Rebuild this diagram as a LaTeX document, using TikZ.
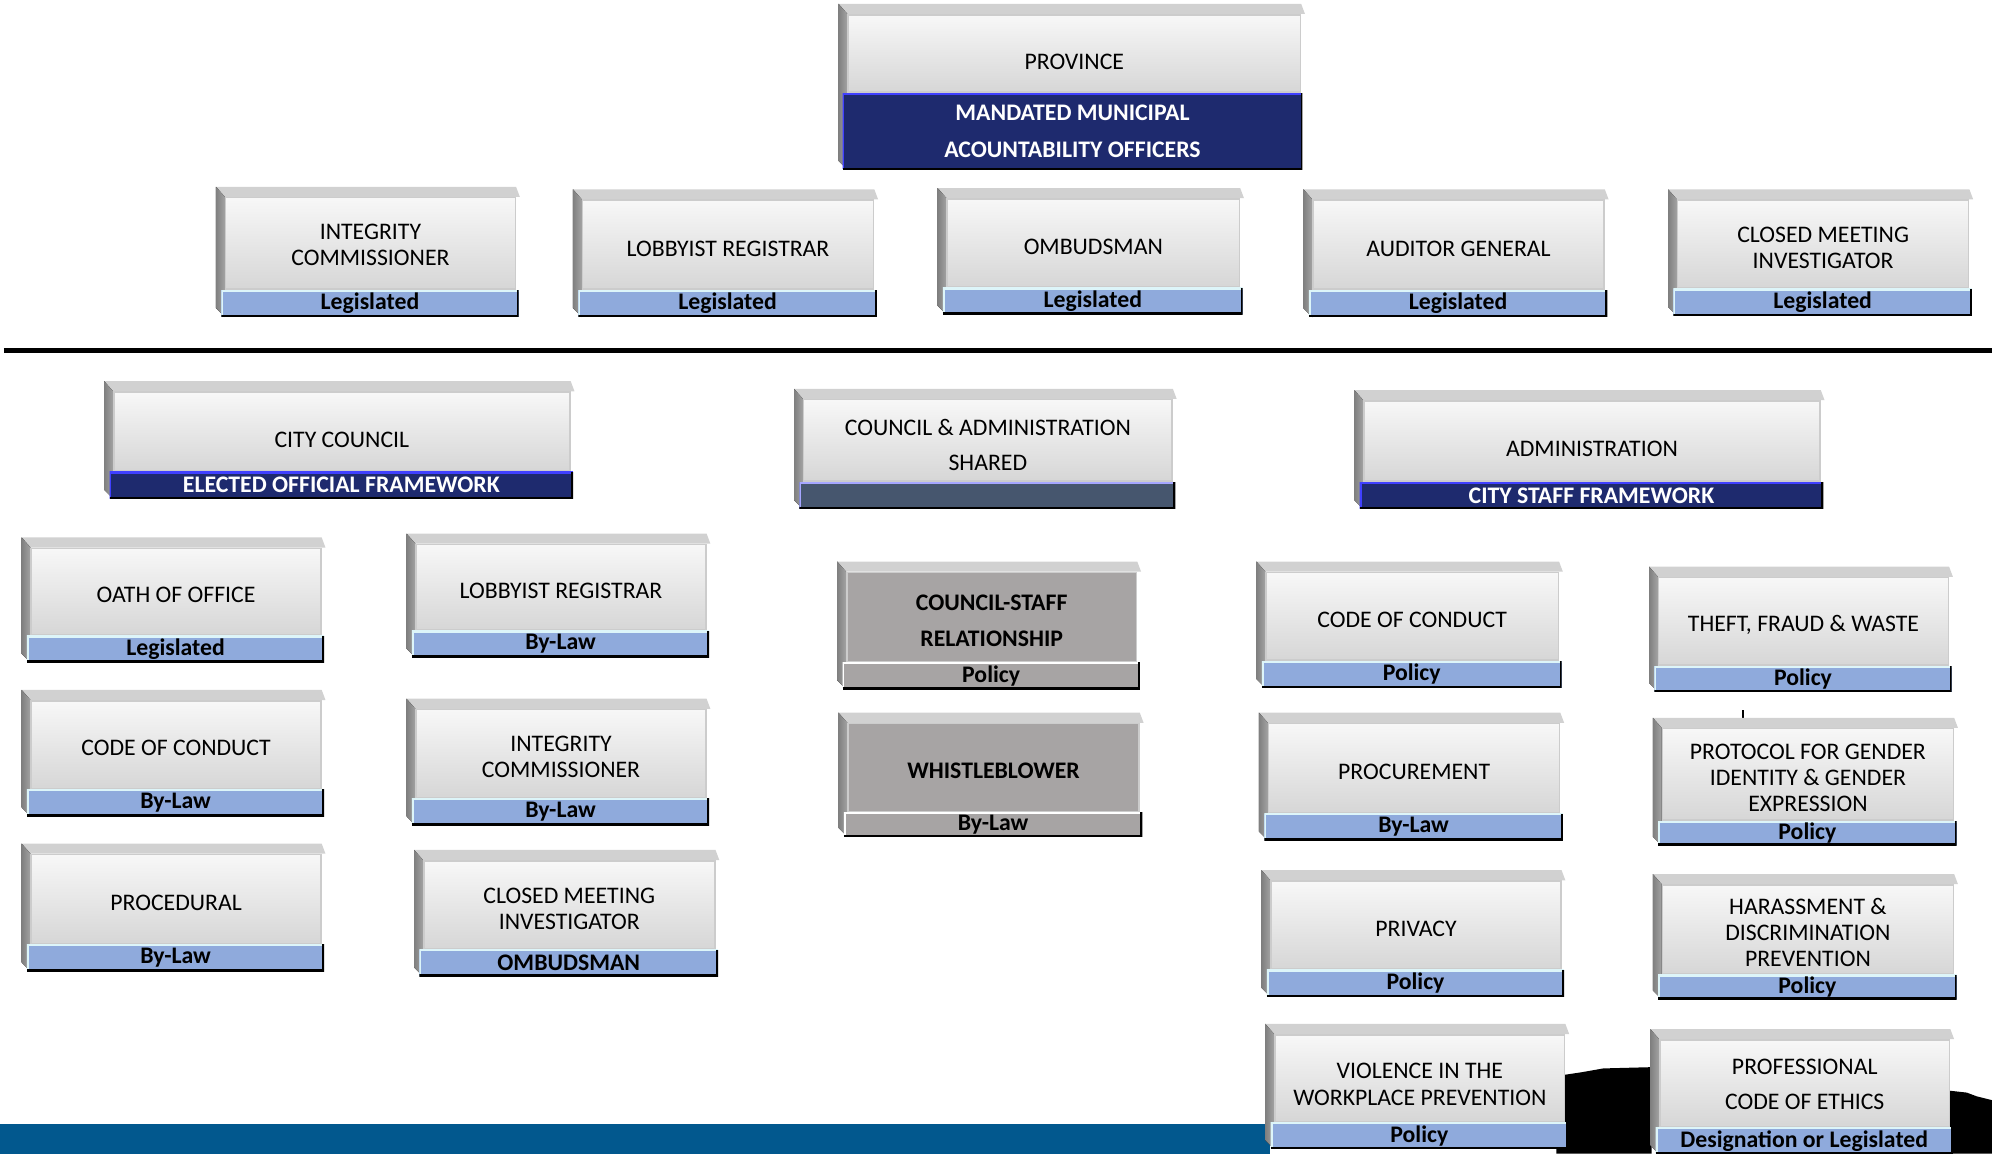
\documentclass[tikz,border=0pt]{standalone}
\usepackage{fontspec}
\setmainfont{Carlito}
\usetikzlibrary{calc,backgrounds}
\definecolor{navy}{HTML}{1E2A6E}
\definecolor{barblue}{HTML}{8FAADC}
\definecolor{slate}{HTML}{46566E}
\definecolor{facedark}{HTML}{A7A4A4}
\definecolor{bandblue}{HTML}{02588E}
\definecolor{barhi}{HTML}{DDF5F9}

\begin{document}
\begin{tikzpicture}[x=1pt,y=-1pt,
  face/.style={rectangle,anchor=north west,inner sep=0pt,align=center,
               draw=black!20,line width=1.2pt,top color=black!3,bottom color=black!16,
               font=\fontsize{18.7}{20.5}\selectfont},
  darkface/.style={face,top color=facedark,bottom color=facedark,
               font=\bfseries\fontsize{18.7}{28}\selectfont},
  wide/.style={font=\fontsize{18.7}{28}\selectfont},
  one/.style={text height=18pt},
  two/.style={text height=38.5pt},
  three/.style={text height=59pt},
  hdr/.style={text height=25pt},
  bar/.style={rectangle,anchor=north west,inner sep=0pt,align=center,
              minimum width=#1,minimum height=21pt,fill=barblue,
              font=\bfseries\fontsize{18.7}{20.5}\selectfont,
              path picture={
                \draw[barhi,line width=3pt] (path picture bounding box.south west)
                  -- (path picture bounding box.north west) -- (path picture bounding box.north east);
                \draw[black,line width=3pt] (path picture bounding box.south west)
                  -- (path picture bounding box.south east) -- (path picture bounding box.north east);}},
  navybar/.style={bar=#1,fill=navy,text=white,/utils/exec={\colorlet{barhi}{blue!75!white}}},
  slatebar/.style={bar=#1,fill=slate,/utils/exec={\colorlet{barhi}{blue!35!white}}},
  greybar/.style={bar=#1,fill=facedark,/utils/exec={\colorlet{barhi}{white}}},
  bevtop/.style={fill=black!18},
  bevleft/.style={left color=black!50,right color=black!36},
  rule/.style={line width=3.5pt}
]
  \useasboundingbox (0,0) rectangle (1568,908);

  % province
  \node[face,hdr,minimum width=356pt,minimum height=61pt] (prov) at (667,11) {PROVINCE};
  \node[navybar=362pt,minimum height=60pt,font=\bfseries\fontsize{18.7}{29}\selectfont]
       (prov-bar) at ([xshift=-4pt]prov.south west) {MANDATED MUNICIPAL\\ACOUNTABILITY OFFICERS};

  % accountability officers
  \node[face,text height=35.5pt,minimum width=228pt,minimum height=72pt] (ic) at (177,155) {INTEGRITY\\COMMISSIONER};
  \node[bar=234pt] (ic-bar) at ([xshift=-3pt]ic.south west) {Legislated};
  \node[face,one,minimum width=229pt,minimum height=70pt] (lr) at (458,157) {LOBBYIST REGISTRAR};
  \node[bar=235pt] (lr-bar) at ([xshift=-3pt]lr.south west) {Legislated};
  \node[face,one,minimum width=230pt,minimum height=69pt] (omb) at (745,156) {OMBUDSMAN};
  \node[bar=236pt] (omb-bar) at ([xshift=-3pt]omb.south west) {Legislated};
  \node[face,one,minimum width=229pt,minimum height=70pt] (ag) at (1033,157) {AUDITOR GENERAL};
  \node[bar=235pt] (ag-bar) at ([xshift=-3pt]ag.south west) {Legislated};
  \node[face,two,minimum width=229pt,minimum height=69pt] (cmi) at (1320,157) {CLOSED MEETING\\INVESTIGATOR};
  \node[bar=235pt] (cmi-bar) at ([xshift=-3pt]cmi.south west) {Legislated};

  % frameworks
  \node[face,hdr,minimum width=359pt,minimum height=62pt] (council) at (89,308) {CITY COUNCIL};
  \node[navybar=365pt] (council-bar) at ([xshift=-3pt]council.south west) {ELECTED OFFICIAL FRAMEWORK};
  \node[face,wide,text height=48pt,minimum width=290pt,minimum height=64pt] (shared) at (632,314) {COUNCIL \& ADMINISTRATION\\SHARED};
  \node[slatebar=296pt] (shared-bar) at ([xshift=-3pt]shared.south west) {};
  \node[face,hdr,minimum width=359pt,minimum height=63pt] (admin) at (1073,315) {ADMINISTRATION};
  \node[navybar=365pt] (admin-bar) at ([xshift=-3pt]admin.south west) {CITY STAFF FRAMEWORK};

  % council
  \node[face,one,minimum width=228pt,minimum height=68pt] (oath) at (24,431) {OATH OF OFFICE};
  \node[bar=234pt] (oath-bar) at ([xshift=-3pt]oath.south west) {Legislated};
  \node[face,one,minimum width=228pt,minimum height=69pt] (ccoc) at (24,551) {CODE OF CONDUCT};
  \node[bar=234pt] (ccoc-bar) at ([xshift=-3pt]ccoc.south west) {By-Law};
  \node[face,one,minimum width=228pt,minimum height=70pt] (proc) at (24,672) {PROCEDURAL};
  \node[bar=234pt] (proc-bar) at ([xshift=-3pt]proc.south west) {By-Law};
  \node[face,one,minimum width=228pt,minimum height=67pt] (clr) at (327,428) {LOBBYIST REGISTRAR};
  \node[bar=234pt] (clr-bar) at ([xshift=-3pt]clr.south west) {By-Law};
  \node[face,two,minimum width=228pt,minimum height=69pt] (cic) at (327,558) {INTEGRITY\\COMMISSIONER};
  \node[bar=234pt] (cic-bar) at ([xshift=-3pt]cic.south west) {By-Law};
  \node[face,two,minimum width=229pt,minimum height=69pt] (ccmi) at (333,677) {CLOSED MEETING\\INVESTIGATOR};
  \node[bar=235pt] (ccmi-bar) at ([xshift=-3pt]ccmi.south west) {OMBUDSMAN};

  % shared
  \node[darkface,text height=46pt,minimum width=228pt,minimum height=70pt] (csr) at (666,450) {COUNCIL-STAFF\\RELATIONSHIP};
  \node[greybar=234pt] (csr-bar) at ([xshift=-3pt]csr.south west) {Policy};
  \node[darkface,one,minimum width=229pt,minimum height=69pt] (wb) at (667,569) {WHISTLEBLOWER};
  \node[greybar=235pt,minimum height=19pt] (wb-bar) at ([xshift=-3pt]wb.south west) {By-Law};

  % administration
  \node[face,one,minimum width=230pt,minimum height=69pt] (acoc) at (996,450) {CODE OF CONDUCT};
  \node[bar=236pt] (acoc-bar) at ([xshift=-3pt]acoc.south west) {Policy};
  \node[face,one,minimum width=229pt,minimum height=70pt] (procu) at (998,569) {PROCUREMENT};
  \node[bar=235pt] (procu-bar) at ([xshift=-3pt]procu.south west) {By-Law};
  \node[face,one,minimum width=228pt,minimum height=69pt] (priv) at (1000,693) {PRIVACY};
  \node[bar=234pt] (priv-bar) at ([xshift=-3pt]priv.south west) {Policy};
  \node[face,text height=42.5pt,minimum width=228pt,minimum height=68pt] (viol) at (1003,814) {VIOLENCE IN THE\\WORKPLACE PREVENTION};
  \node[bar=234pt] (viol-bar) at ([xshift=-3pt]viol.south west) {Policy};
  \node[face,one,minimum width=228pt,minimum height=69pt] (tfw) at (1305,454) {THEFT, FRAUD \& WASTE};
  \node[bar=234pt,minimum height=20pt] (tfw-bar) at ([xshift=-3pt]tfw.south west) {Policy};
  \node[face,three,minimum width=229pt,minimum height=72pt] (gender) at (1308,573) {PROTOCOL FOR GENDER\\IDENTITY \& GENDER\\EXPRESSION};
  \node[bar=235pt,minimum height=19pt] (gender-bar) at ([xshift=-3pt]gender.south west) {Policy};
  \node[face,text height=58pt,minimum width=229pt,minimum height=70pt] (harass) at (1308,696) {HARASSMENT \&\\DISCRIMINATION\\PREVENTION};
  \node[bar=235pt,minimum height=19pt] (harass-bar) at ([xshift=-3pt]harass.south west) {Policy};
  \node[face,wide,text height=42pt,minimum width=228pt,minimum height=68pt] (ethics) at (1306,818) {PROFESSIONAL\\CODE OF ETHICS};
  \node[bar=234pt] (ethics-bar) at ([xshift=-3pt]ethics.south west) {Designation or Legislated};

  \begin{scope}[on background layer]
    \fill[bandblue] (0,885) rectangle (1000,908);
    \fill[black] (1225,847) -- (1245,844) -- (1262,841) -- (1300,840) -- (1300,908) -- (1225,908) -- cycle;
    \fill[black] (1530,858) -- (1548,860) -- (1556,863) -- (1568,866) -- (1568,908) -- (1530,908) -- cycle;
    \draw[rule] (3,276) -- (1568,276);
    \draw[line width=1pt] (1372,559) -- (1372,566);
    \foreach \n in {prov,ic,lr,omb,ag,cmi,council,shared,admin,oath,ccoc,proc,clr,cic,ccmi,
                    csr,wb,acoc,procu,priv,viol,tfw,gender,harass,ethics} {
      \fill[bevtop] ($(\n.north west)+(-7pt,8pt)$) -- ($(\n.north east)+(0pt,8pt)$)
        -- ($(\n.north east)+(3pt,0pt)$) -- (\n.north west) -- cycle;
      \fill[bevleft] ($(\n.north west)+(-7pt,8pt)$) -- (\n.north west)
        -- (\n.north west |- \n-bar.south) -- ($(\n.north west |- \n-bar.south)+(-7pt,7pt)$) -- cycle;
    }
  \end{scope}
\end{tikzpicture}
\end{document}
